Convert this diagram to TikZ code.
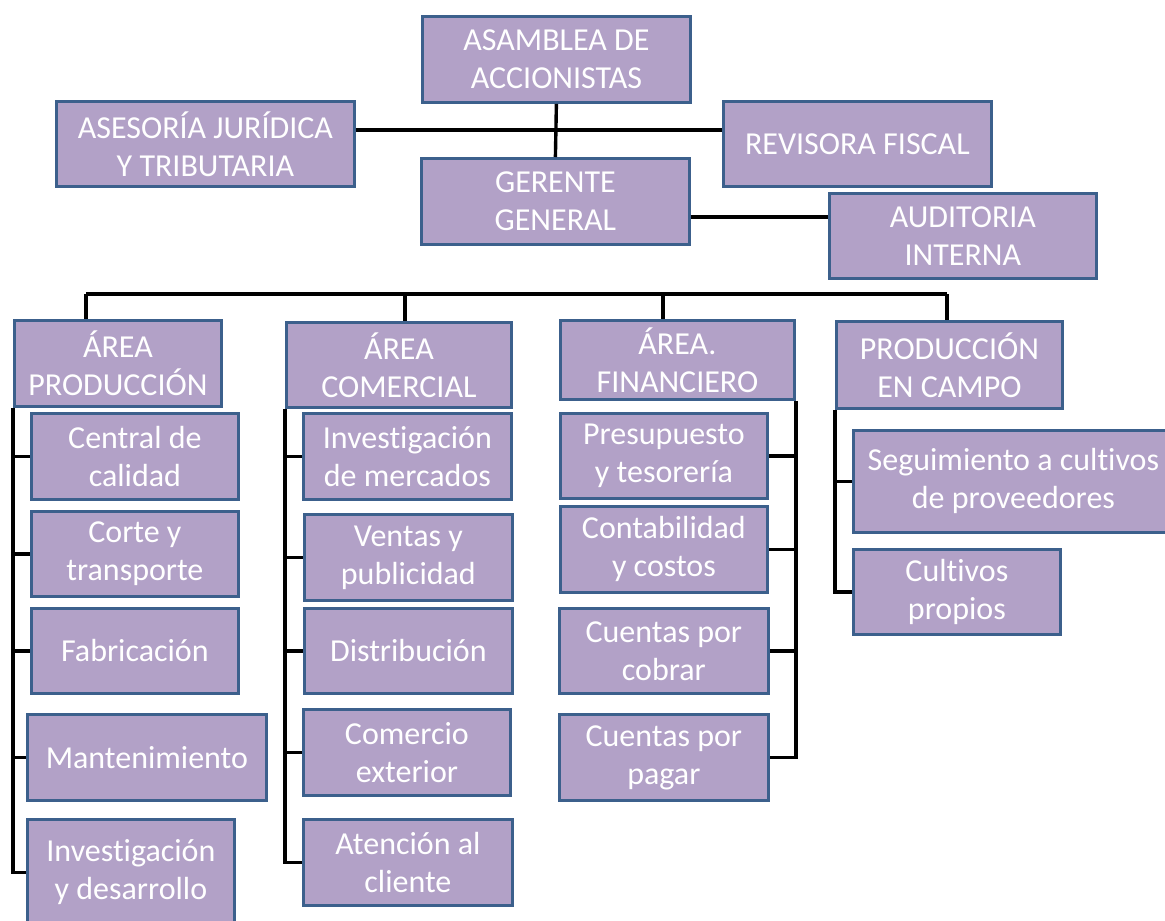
\documentclass[tikz,border=0pt]{standalone}
\usepackage{fontspec}
\setmainfont{Carlito}[Ligatures=NoCommon]
\usepackage{tikz}
\definecolor{boxlilac}{RGB}{178,161,199}
\definecolor{boxblue}{RGB}{60,96,140}

\begin{document}
\begin{tikzpicture}[
    x=1pt, y=-1pt,
    unit/.style={rectangle, draw=boxblue, fill=boxlilac, line width=2.8pt, text=white, align=center, inner sep=0pt, anchor=north west, font=\fontsize{32}{38}\selectfont},
    link/.style={draw, line width=3.4pt}
  ]
  \useasboundingbox (0,0) rectangle (1165,921);
  \clip (0,0) rectangle (1165,921);

  % conectores de arriba
  \coordinate (cruce) at (553,130);
  \coordinate (ramaAud) at (688,217);

  % barra de areas
  \coordinate (bus1) at (86,294);
  \coordinate (bus4) at (947,294);

  % direccion
  \node[unit, minimum width=268, minimum height=86] (asamblea) at (421,15) {ASAMBLEA DE\\ACCIONISTAS};
  \node[unit, minimum width=298, minimum height=85] (asesoria) at (55,100) {ASESORÍA JURÍDICA\\Y TRIBUTARIA};
  \node[unit, minimum width=268, minimum height=85] (revisora) at (722,100) {REVISORA FISCAL};
  \node[unit, minimum width=268, minimum height=86] (gerente) at (420,157) {GERENTE\\GENERAL};
  \node[unit, minimum width=267, minimum height=85] (auditoria) at (828,192) {AUDITORIA\\INTERNA};

  % areas
  \node[unit, minimum width=207, minimum height=86] (aprod) at (13,319) {ÁREA\\PRODUCCIÓN};
  \node[unit, minimum width=225, minimum height=85] (acom) at (285,321) {ÁREA\\COMERCIAL};
  \node[unit, minimum width=234, minimum height=79] (afin) at (559,319) {ÁREA.\\FINANCIERO};
  \node[unit, minimum width=226, minimum height=87] (acampo) at (835,320) {PRODUCCIÓN\\EN CAMPO};

  % produccion
  \node[unit, minimum width=207, minimum height=86] (calidad) at (30,412) {Central de\\calidad};
  \node[unit, minimum width=207, minimum height=85] (corte) at (30,510) {Corte y\\transporte};
  \node[unit, minimum width=207, minimum height=85] (fabric) at (30,607) {Fabricación};
  \node[unit, minimum width=239, minimum height=86] (mant) at (26,713) {Mantenimiento};
  \node[unit, minimum width=207, minimum height=106] (invdes) at (26,818) {Investigación\\y desarrollo};

  % comercial
  \node[unit, minimum width=208, minimum height=86] (invmerc) at (302,412) {Investigación\\de mercados};
  \node[unit, minimum width=208, minimum height=86] (ventas) at (303,513) {Ventas y\\publicidad};
  \node[unit, minimum width=208, minimum height=85] (distrib) at (303,607) {Distribución};
  \node[unit, minimum width=207, minimum height=86] (comext) at (302,708) {Comercio\\exterior};
  \node[unit, minimum width=209, minimum height=86] (atencion) at (302,818) {Atención al\\cliente};

  % financiero
  \node[unit, minimum width=207, minimum height=85] (presup) at (559,412) {Presupuesto\\y tesorería};
  \node[unit, minimum width=207, minimum height=86] (contab) at (559,505) {Contabilidad\\y costos};
  \node[unit, minimum width=209, minimum height=85] (cobrar) at (558,607) {Cuentas por\\cobrar};
  \node[unit, minimum width=209, minimum height=86] (pagar) at (558,713) {Cuentas por\\pagar};

  % campo
  \node[unit, minimum width=320, minimum height=102] (seguim) at (852,429) {Seguimiento a cultivos\\de proveedores};
  \node[unit, minimum width=207, minimum height=85] (cultivos) at (852,548) {Cultivos\\propios};

  \draw[link] (asamblea.south) -- (gerente.north);
  \draw[link] (asesoria.east |- cruce) -- (revisora.west |- cruce);
  \draw[link] (gerente.east |- ramaAud) -- (auditoria.west |- ramaAud);

  \draw[link] (bus1) -- (bus4);
  \foreach \x/\n in {86/aprod, 405/acom, 663/afin, 947/acampo}
    \draw[link] (\x,294) -- (\x,294 |- \n.north);

  % ramas
  \draw[link] (aprod.south west) |- (invdes.west);
  \foreach \n in {calidad, corte, fabric, mant}
    \draw[link] (aprod.west |- \n.west) -- (\n.west);
  \draw[link] (acom.south west) |- (atencion.west);
  \foreach \n in {invmerc, ventas, distrib, comext}
    \draw[link] (acom.west |- \n.west) -- (\n.west);
  \draw[link] (afin.south east) |- (pagar.east);
  \foreach \n in {presup, contab, cobrar}
    \draw[link] (afin.east |- \n.east) -- (\n.east);
  \draw[link] (acampo.south west) |- (cultivos.west);
  \draw[link] (acampo.west |- seguim.west) -- (seguim.west);

\end{tikzpicture}
\end{document}
